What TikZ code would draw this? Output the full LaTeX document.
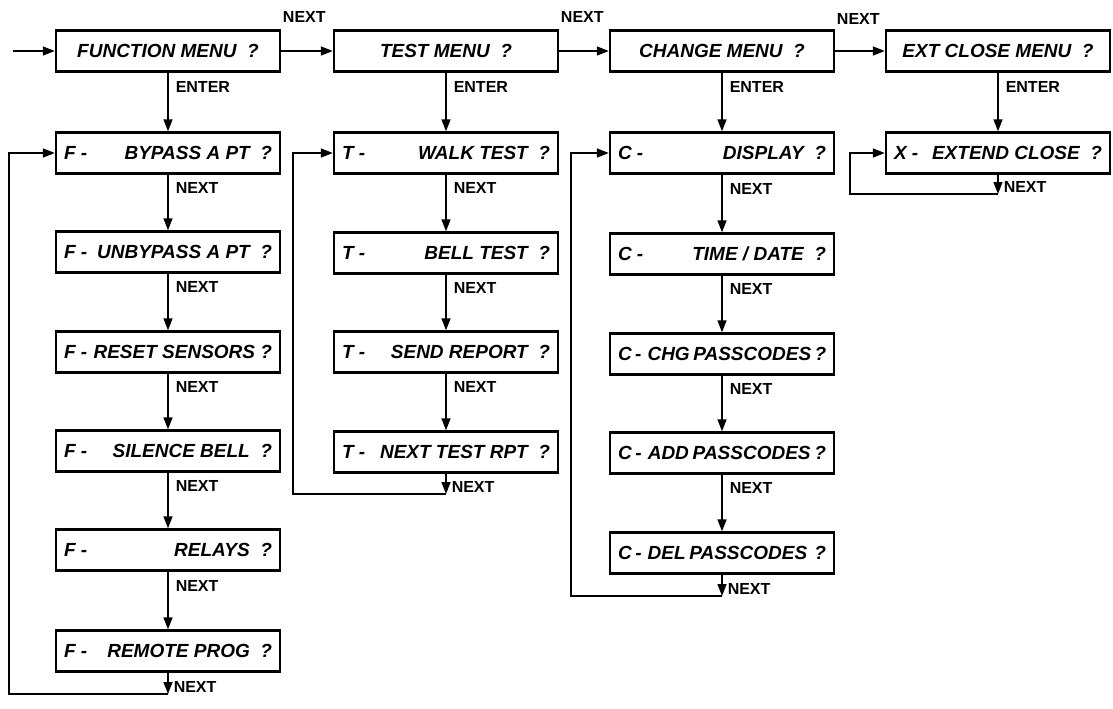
\documentclass[tikz,border=0pt]{standalone}
\usepackage{fontspec}
\setmainfont{Liberation Sans}
\usetikzlibrary{arrows.meta}
\newcommand{\menuline}[2]{\hbox to 208pt{#1\hskip 6pt plus 1fill\relax #2}}

\begin{document}
\begin{tikzpicture}[x=1pt,y=-1pt,line width=1.5pt,
  >={Triangle[length=12pt,width=9pt]},
  menu/.style={draw,line width=2.4pt,minimum width=224pt,minimum height=41pt,inner sep=0pt,
    font=\fontsize{19}{22}\selectfont\bfseries\itshape},
  lbl/.style={font=\fontsize{16}{18}\selectfont\bfseries,inner sep=1pt}]
  \useasboundingbox (0,0) rectangle (1113,709);

  % top row
  \node[menu] (fmenu) at (168,51) {FUNCTION MENU ~?};
  \node[menu] (tmenu) at (446,51) {TEST MENU ~?};
  \node[menu] (cmenu) at (722,51) {CHANGE MENU ~?};
  \node[menu] (xmenu) at (998,51) {EXT CLOSE MENU ~?};

  % function column
  \node[menu] (f1) at (168,153) {\menuline{F -}{BYPASS A PT ~?}};
  \node[menu] (f2) at (168,252) {\menuline{F -}{UNBYPASS A PT ~?}};
  \node[menu] (f3) at (168,352) {\menuline{F -}{RESET SENSORS ?}};
  \node[menu] (f4) at (168,451) {\menuline{F -}{SILENCE BELL ~?}};
  \node[menu] (f5) at (168,550) {\menuline{F -}{RELAYS ~?}};
  \node[menu] (f6) at (168,651) {\menuline{F -}{REMOTE PROG ~?}};

  % test column
  \node[menu] (t1) at (446,153) {\menuline{T -}{WALK TEST ~?}};
  \node[menu] (t2) at (446,253) {\menuline{T -}{BELL TEST ~?}};
  \node[menu] (t3) at (446,352) {\menuline{T -}{SEND REPORT ~?}};
  \node[menu] (t4) at (446,452) {\menuline{T -}{NEXT TEST RPT ~?}};

  % change column
  \node[menu] (c1) at (722,153) {\menuline{C -}{DISPLAY ~?}};
  \node[menu] (c2) at (722,254) {\menuline{C -}{TIME / DATE ~?}};
  \node[menu] (c3) at (722,354) {\menuline{C -}{CHG PASSCODES ?}};
  \node[menu] (c4) at (722,453) {\menuline{C -}{ADD PASSCODES ?}};
  \node[menu] (c5) at (722,553) {\menuline{C -}{DEL PASSCODES ~?}};

  % ext close column
  \node[menu] (x1) at (998,153) {\menuline{X -}{EXTEND CLOSE ~?}};

  % menu to menu
  \coordinate (start) at (13,51);
  \draw[->] (start) -- (fmenu);
  \draw[->] (fmenu) -- node[lbl,pos=0,anchor=west,yshift=34pt] (nfm) {NEXT} (tmenu);
  \draw[->] (tmenu) -- node[lbl,pos=0,anchor=west,yshift=34pt] (ntm) {NEXT} (cmenu);
  \draw[->] (cmenu) -- node[lbl,pos=0,anchor=west,yshift=32pt] (ncm) {NEXT} (xmenu);

  % enter
  \foreach \a/\b in {fmenu/f1,tmenu/t1,cmenu/c1,xmenu/x1}
    \draw[->] (\a) -- node[lbl,pos=0.24,right=6pt] (e\a) {ENTER} (\b);

  % next inside a column
  \foreach \a/\b in {f1/f2,f2/f3,f3/f4,f4/f5,f5/f6,t1/t2,t2/t3,t3/t4,c1/c2,c2/c3,c3/c4,c4/c5}
    \draw[->] (\a) -- node[lbl,pos=0.24,right=6pt] (n\a) {NEXT} (\b);

  % back to the first item
  \coordinate (fend) at (168,694);  \coordinate (fback) at (9,694);
  \coordinate (tend) at (446,494);  \coordinate (tback) at (293,494);
  \coordinate (cend) at (722,596);  \coordinate (cback) at (571,596);
  \coordinate (xend) at (998,194);  \coordinate (xback) at (850,194);
  \foreach \a/\e/\k/\f in {f6/fend/fback/f1,t4/tend/tback/t1,c5/cend/cback/c1,x1/xend/xback/x1} {
    \draw[->] (\a) -- (\e) node[lbl,anchor=south west,xshift=4pt] (n\a) {NEXT};
    \draw[->] (\e) -- (\k) |- (\f);
  }
\end{tikzpicture}
\end{document}
